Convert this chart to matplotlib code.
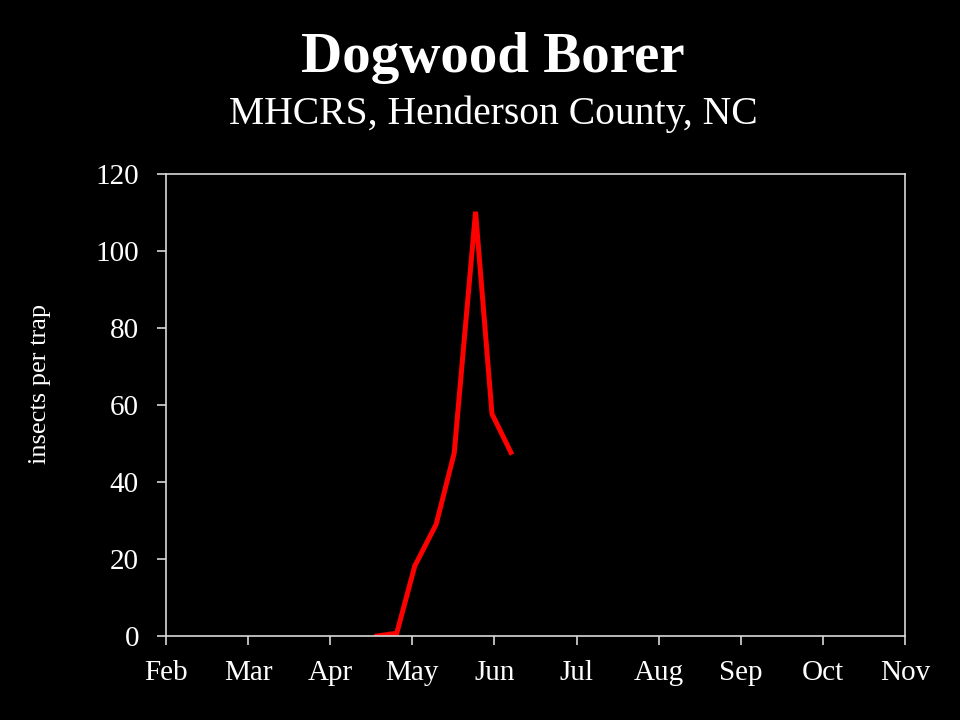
import matplotlib
matplotlib.use("Agg")
import matplotlib.pyplot as plt

months = ["Feb", "Mar", "Apr", "May", "Jun", "Jul", "Aug", "Sep", "Oct", "Nov"]
# sample dates expressed in months since Feb 1
x_vals = [2.57, 2.81, 3.03, 3.29, 3.51, 3.77, 3.97, 4.20]
y_vals = [0, 0.7, 18.2, 29, 47.5, 110.2, 57.7, 47.7]

plt.rcParams['font.family'] = ['Liberation Serif', 'DejaVu Serif']

fig = plt.figure(figsize=(9.6, 7.2), dpi=100, facecolor='black')
ax = fig.add_axes([166/960, 1-636/720, (905-166)/960, (636-174)/720])
ax.set_facecolor('black')

ax.plot(x_vals, y_vals, color='#ff0000', linewidth=3.6, solid_joinstyle='miter')

ax.set_xlim(0, 9)
ax.set_ylim(0, 120)
ax.set_xticks(range(len(months)))
ax.set_xticklabels(months)
ax.set_yticks(range(0, 121, 20))

for s in ax.spines.values():
    s.set_color('#d8d8d8')
    s.set_linewidth(1.2)

ax.tick_params(axis='both', colors='#d8d8d8', labelcolor='white', direction='out',
               length=6.5, width=1.2, labelsize=21)
ax.tick_params(axis='x', pad=11)
ax.tick_params(axis='y', pad=13)

fig.text(40/960, 1-384/720, "insects per trap", rotation=90, color='white',
         fontsize=19, ha='center', va='center')

fig.text(493/960, 1-58/720, "Dogwood Borer", color='white', fontsize=41,
         fontweight='bold', ha='center', va='center')
fig.text(493/960, 1-114/720, "MHCRS, Henderson County, NC", color='white', fontsize=28.5,
         ha='center', va='center')

fig.savefig("out.png", dpi=100, facecolor='black')
